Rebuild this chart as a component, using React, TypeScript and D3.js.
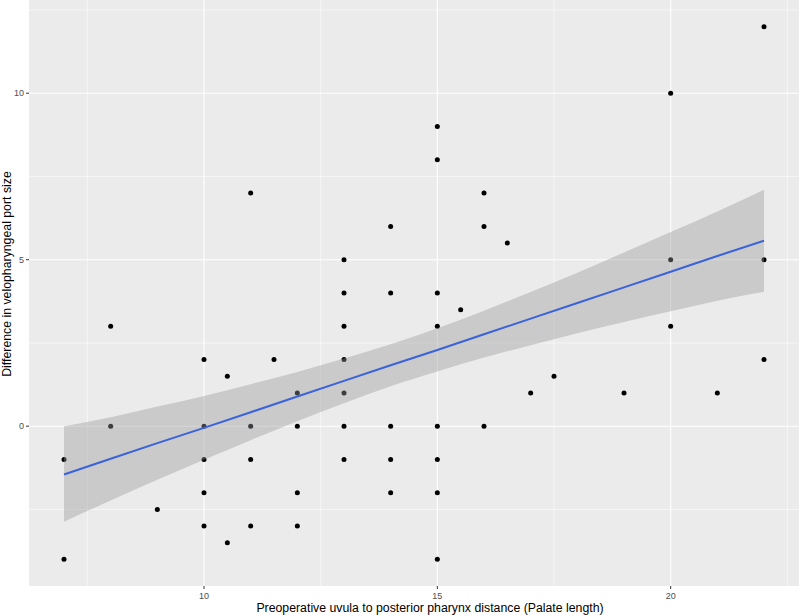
import React from "react";
import * as d3 from "d3";

// Palate length (x) and difference in velopharyngeal port size (y)
const palateLength: number[] = [
  7, 7,
  8, 8,
  9,
  10, 10, 10, 10, 10,
  10.5, 10.5,
  11, 11, 11, 11,
  11.5,
  12, 12, 12, 12,
  13, 13, 13, 13, 13, 13, 13,
  14, 14, 14, 14, 14,
  15, 15, 15, 15, 15, 15, 15, 15,
  15.5,
  16, 16, 16,
  16.5,
  17,
  17.5,
  19,
  20, 20, 20,
  21,
  22, 22, 22,
];
const portDifference: number[] = [
  -1, -4,
  3, 0,
  -2.5,
  2, 0, -1, -2, -3,
  1.5, -3.5,
  7, 0, -1, -3,
  2,
  1, 0, -2, -3,
  5, 4, 3, 2, 1, 0, -1,
  6, 4, 0, -1, -2,
  9, 8, 4, 3, 0, -1, -2, -4,
  3.5,
  7, 6, 0,
  5.5,
  1,
  1.5,
  1,
  10, 5, 3,
  1,
  12, 5, 2,
];

// Linear fit and its 95% confidence band
const fitX: number[] = [7, 8, 9, 10, 11, 12, 13, 14, 15, 16, 17, 18, 19, 20, 21, 22];
const fitY: number[] = [-1.45, -0.98, -0.51, -0.05, 0.42, 0.89, 1.36, 1.83, 2.29, 2.76, 3.23, 3.7, 4.17, 4.64, 5.11, 5.57];
const bandLow: number[] = [-2.87, -2.23, -1.61, -1.01, -0.42, 0.15, 0.69, 1.2, 1.64, 2.06, 2.43, 2.79, 3.13, 3.45, 3.77, 4.04];
const bandHigh: number[] = [0.0, 0.27, 0.59, 0.91, 1.26, 1.63, 2.03, 2.46, 2.94, 3.47, 4.03, 4.61, 5.22, 5.83, 6.45, 7.1];

const xTicks: number[] = [10, 15, 20];
const yTicks: number[] = [0, 5, 10];
const xMinor: number[] = [7.5, 12.5, 17.5, 22.5];
const yMinor: number[] = [-2.5, 2.5, 7.5, 12.5];

const xTitle = "Preoperative uvula to posterior pharynx distance (Palate length)";
const yTitle = "Difference in velopharyngeal port size";

const W = 800;
const H = 615;
const M = { left: 29, right: 1, top: 0, bottom: 29 };

export default function App() {
  const pts = palateLength.map((x, i) => ({ x, y: portDifference[i] }));
  const xExt = d3.extent(palateLength) as [number, number];
  const yExt = d3.extent(portDifference) as [number, number];
  const xPad = (xExt[1] - xExt[0]) * 0.05;
  const yPad = (yExt[1] - yExt[0]) * 0.05;

  const x = d3
    .scaleLinear()
    .domain([xExt[0] - xPad, xExt[1] + xPad])
    .range([M.left, W - M.right]);
  const y = d3
    .scaleLinear()
    .domain([yExt[0] - yPad, yExt[1] + yPad])
    .range([H - M.bottom, M.top]);

  const fit = fitX.map((fx, i) => ({ x: fx, y: fitY[i], lo: bandLow[i], hi: bandHigh[i] }));

  const area = d3
    .area<{ x: number; lo: number; hi: number }>()
    .x((d) => x(d.x))
    .y0((d) => y(d.lo))
    .y1((d) => y(d.hi))
    .curve(d3.curveMonotoneX);
  const line = d3
    .line<{ x: number; y: number }>()
    .x((d) => x(d.x))
    .y((d) => y(d.y));

  const pL = M.left;
  const pR = W - M.right;
  const pT = M.top;
  const pB = H - M.bottom;

  return (
    <svg
      width={W}
      height={H}
      style={{ position: "absolute", left: 0, top: 0, background: "#fff" }}
      fontFamily="'Liberation Sans', Arial, Helvetica, sans-serif"
    >
      <rect x={pL} y={pT} width={pR - pL} height={pB - pT} fill="#EBEBEB" />
      {xMinor.map((t) => (
        <line key={"xm" + t} x1={x(t)} x2={x(t)} y1={pT} y2={pB} stroke="#fff" strokeWidth={0.55} />
      ))}
      {yMinor.map((t) => (
        <line key={"ym" + t} x1={pL} x2={pR} y1={y(t)} y2={y(t)} stroke="#fff" strokeWidth={0.55} />
      ))}
      {xTicks.map((t) => (
        <line key={"xg" + t} x1={x(t)} x2={x(t)} y1={pT} y2={pB} stroke="#fff" strokeWidth={1.1} />
      ))}
      {yTicks.map((t) => (
        <line key={"yg" + t} x1={pL} x2={pR} y1={y(t)} y2={y(t)} stroke="#fff" strokeWidth={1.1} />
      ))}

      {pts.map((p, i) => (
        <circle key={i} cx={x(p.x)} cy={y(p.y)} r={2.5} fill="#000" />
      ))}

      <path d={area(fit) || ""} fill="#999999" fillOpacity={0.4} />
      <path d={line(fit) || ""} fill="none" stroke="#3A62DA" strokeWidth={2} />

      {xTicks.map((t) => (
        <g key={"xt" + t}>
          <line x1={x(t)} x2={x(t)} y1={pB} y2={pB + 3} stroke="#333" strokeWidth={1} />
          <text x={x(t)} y={pB + 12.5} textAnchor="middle" fontSize={9} fill="#4D4D4D">
            {t}
          </text>
        </g>
      ))}
      {yTicks.map((t) => (
        <g key={"yt" + t}>
          <line x1={pL - 3} x2={pL} y1={y(t)} y2={y(t)} stroke="#333" strokeWidth={1} />
          <text x={pL - 5} y={y(t) + 3.2} textAnchor="end" fontSize={9} fill="#4D4D4D">
            {t}
          </text>
        </g>
      ))}

      <text x={430} y={612} textAnchor="middle" fontSize={12.3} fill="#000">
        {xTitle}
      </text>
      <text
        transform={`translate(10.5,274) rotate(-90)`}
        textAnchor="middle"
        fontSize={12.3}
        fill="#000"
      >
        {yTitle}
      </text>
    </svg>
  );
}
